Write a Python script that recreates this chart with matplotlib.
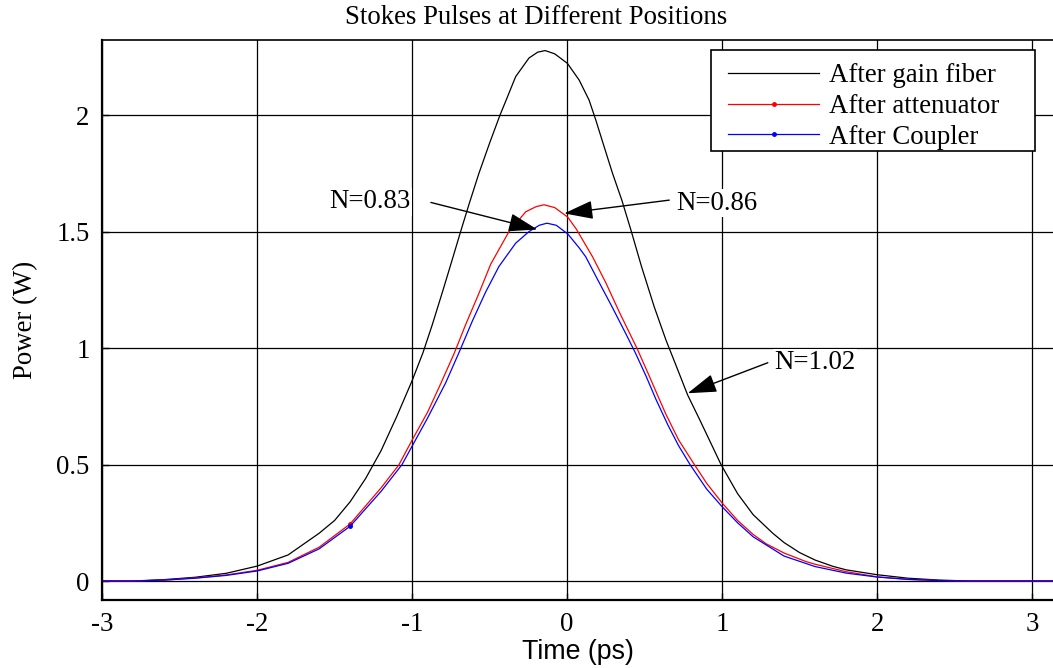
import numpy as np
import matplotlib
matplotlib.use("Agg")
import matplotlib.pyplot as plt
from matplotlib.patches import Rectangle

# ---- data ----
gain_time = [-3.0, -2.8, -2.6, -2.4, -2.2, -2.0, -1.8, -1.6, -1.5, -1.4, -1.3, -1.2, -1.1, -1.0, -0.93,
             -0.87, -0.8, -0.741, -0.687, -0.634, -0.569, -0.5, -0.433, -0.396, -0.332,
             -0.246, -0.19, -0.142, -0.08, 0.002, 0.078, 0.142, 0.185, 0.239, 0.293, 0.353,
             0.412, 0.48, 0.562, 0.638, 0.70, 0.778, 0.85, 0.918, 0.993, 1.1, 1.2, 1.327,
             1.4, 1.5, 1.6, 1.715, 1.8, 2.0, 2.2, 2.4, 2.6, 3.2]
after_gain_fiber = [0.0, 0.0, 0.006, 0.016, 0.033, 0.064, 0.112, 0.205, 0.26, 0.34, 0.44, 0.56, 0.705, 0.86, 0.98,
                    1.10, 1.25, 1.38, 1.50, 1.615, 1.75, 1.88, 2.0, 2.06, 2.165,
                    2.245, 2.27, 2.277, 2.263, 2.222, 2.15, 2.064, 1.979, 1.864, 1.75, 1.635,
                    1.506, 1.35, 1.177, 1.034, 0.93, 0.798, 0.70, 0.605, 0.5, 0.375, 0.285, 0.205,
                    0.165, 0.122, 0.09, 0.063, 0.048, 0.027, 0.012, 0.004, 0.0, 0.0]

atten_time = [-3.0, -2.8, -2.6, -2.4, -2.2, -2.0, -1.8, -1.6, -1.4, -1.2, -1.086, -1.0, -0.9,
              -0.817, -0.73, -0.655, -0.569, -0.493, -0.375, -0.267, -0.2, -0.149, -0.08,
              0.004, 0.06, 0.164, 0.25, 0.34, 0.45, 0.53, 0.595, 0.638, 0.72, 0.821, 0.9,
              1.0, 1.1, 1.2, 1.284, 1.4, 1.543, 1.6, 1.8, 2.0, 2.2, 2.4, 2.6, 3.2]
after_attenuator = [0.0, 0.0, 0.004, 0.013, 0.026, 0.046, 0.08, 0.145, 0.245, 0.40, 0.498, 0.605, 0.725,
                    0.845, 0.975, 1.10, 1.235, 1.36, 1.5, 1.585, 1.607, 1.615, 1.603,
                    1.562, 1.51, 1.392, 1.28, 1.15, 1.0, 0.88, 0.78, 0.715, 0.605, 0.5, 0.42,
                    0.335, 0.26, 0.2, 0.16, 0.12, 0.083, 0.072, 0.04, 0.018, 0.007, 0.002, 0.0, 0.0]

coupler_time = [-3.0, -2.8, -2.6, -2.4, -2.2, -2.0, -1.8, -1.6, -1.4, -1.2, -1.065, -1.0, -0.9,
                -0.784, -0.698, -0.612, -0.526, -0.44, -0.332, -0.246, -0.18, -0.13, -0.07,
                0.004, 0.078, 0.12, 0.2, 0.29, 0.38, 0.44, 0.509, 0.573, 0.65, 0.72, 0.793,
                0.9, 1.0, 1.1, 1.2, 1.4, 1.6, 1.8, 2.0, 2.2, 2.4, 2.6, 3.2]
after_coupler = [0.0, 0.0, 0.004, 0.012, 0.024, 0.043, 0.076, 0.138, 0.235, 0.385, 0.5, 0.579, 0.70,
                 0.85, 0.98, 1.115, 1.24, 1.35, 1.45, 1.50, 1.527, 1.536, 1.527,
                 1.49, 1.43, 1.392, 1.29, 1.177, 1.06, 0.98, 0.88, 0.78, 0.67, 0.58, 0.5,
                 0.395, 0.319, 0.25, 0.19, 0.107, 0.062, 0.034, 0.017, 0.007, 0.002, 0.0, 0.0]

series_labels = ["After gain fiber", "After attenuator", "After Coupler"]
x_ticks = [-3, -2, -1, 0, 1, 2, 3]
x_tick_labels = ["-3", "-2", "-1", "0", "1", "2", "3"]
y_ticks = [0, 0.5, 1, 1.5, 2]
y_tick_labels = ["0", "0.5", "1", "1.5", "2"]

# annotations: (text, anchor point, horizontal alignment, arrow tail, arrow tip)
annotations = [
    ("N=0.83", (-1.008, 1.627), "right", (-0.879, 1.625), (-0.192, 1.509)),
    ("N=0.86", (0.705, 1.622), "left", (0.659, 1.635), (-0.019, 1.578)),
    ("N=1.02", (1.338, 0.936), "left", (1.295, 0.937), (0.778, 0.806)),
]

serif = "Liberation Serif"
sans = "Liberation Sans"
FS = 19.3
W, H = 1053, 668

fig = plt.figure(figsize=(W / 100, H / 100), dpi=100)
ax = fig.add_axes([0.097, 0.1018, 0.903, 0.8382])

ax.plot(gain_time, after_gain_fiber, color="black", lw=0.9, label=series_labels[0])
ax.plot(atten_time, after_attenuator, color="red", lw=0.9, marker=".", markersize=5,
        markevery=[8], label=series_labels[1])
ax.plot(coupler_time, after_coupler, color="blue", lw=0.9, marker=".", markersize=5,
        markevery=[8], label=series_labels[2])

ax.set_xlim(-3, 3.135)
ax.set_ylim(-0.0815, 2.322)
ax.set_xticks(x_ticks)
ax.set_xticklabels(x_tick_labels, fontfamily=serif, fontsize=FS)
ax.set_yticks(y_ticks)
ax.set_yticklabels(y_tick_labels, fontfamily=serif, fontsize=FS)
ax.tick_params(direction="in", length=5, width=1, pad=9)
ax.grid(True, color="black", lw=0.9)
ax.set_axisbelow(True)
for side in ["left", "bottom"]:
    ax.spines[side].set_linewidth(1.6)
ax.spines["top"].set_linewidth(1.2)
ax.spines["right"].set_visible(False)

ax.set_xlabel("Time (ps)", fontfamily=sans, fontsize=FS, labelpad=1)
ax.set_ylabel("Power (W)", fontfamily=serif, fontsize=FS, labelpad=13)
fig.text(536 / W, 1 - 17 / H, "Stokes Pulses at Different Positions",
         fontfamily=serif, fontsize=FS, ha="center", va="center")

# legend frame (MATLAB-style box) and legend entries
frame = Rectangle((711 / W, 1 - 151 / H), (1035 - 711) / W, (151 - 50) / H,
                  transform=fig.transFigure, facecolor="white", edgecolor="black",
                  lw=1.2, zorder=4)
fig.add_artist(frame)
leg = fig.legend(handles=ax.get_lines(), loc="upper left",
                 bbox_to_anchor=(728 / W, 1 - 63 / H),
                 prop={"family": serif, "size": FS}, frameon=False, handlelength=3.4,
                 handletextpad=0.35, labelspacing=0.22, borderpad=0,
                 borderaxespad=0)
leg.set_zorder(5)

for text, tpos, ha, tail, tip in annotations:
    ax.text(tpos[0], tpos[1], text, fontfamily=serif, fontsize=FS,
            ha=ha, va="center", bbox=dict(facecolor="white", edgecolor="none", pad=1))
    ax.annotate("", xy=tip, xytext=tail,
                arrowprops=dict(arrowstyle="-|>,head_length=1.0,head_width=0.32",
                                mutation_scale=18, color="black", lw=1,
                                shrinkA=0, shrinkB=0))

fig.savefig("out.png", dpi=100)
